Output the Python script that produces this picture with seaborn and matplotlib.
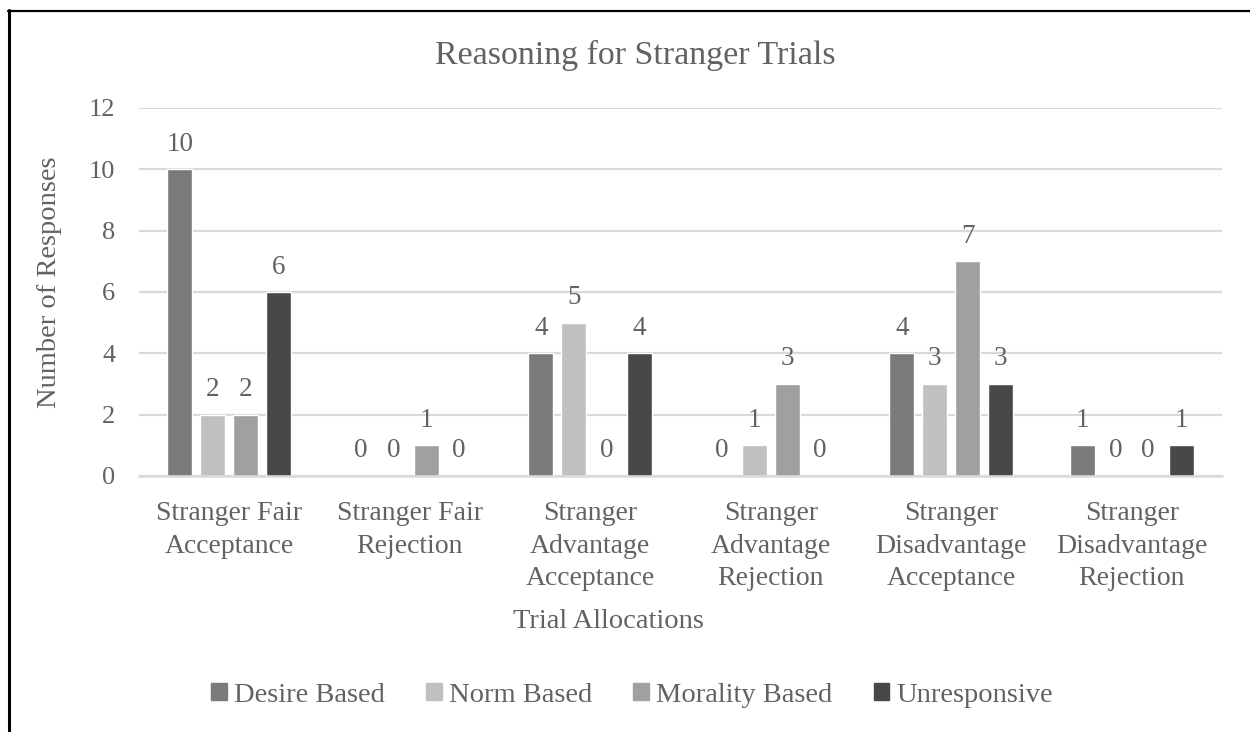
import matplotlib
matplotlib.use("Agg")
import matplotlib.pyplot as plt
from matplotlib.lines import Line2D
import seaborn as sns
import pandas as pd

categories = ["Stranger Fair\nAcceptance", "Stranger Fair\nRejection",
              "Stranger\nAdvantage\nAcceptance", "Stranger\nAdvantage\nRejection",
              "Stranger\nDisadvantage\nAcceptance", "Stranger\nDisadvantage\nRejection"]
series = ["Desire Based", "Norm Based", "Morality Based", "Unresponsive"]
desire = [10, 0, 4, 0, 4, 1]
norm = [2, 0, 5, 1, 3, 0]
morality = [2, 1, 0, 3, 7, 0]
unresponsive = [6, 0, 4, 0, 3, 1]
colors = ["#7b7b7b", "#bfc0c2", "#a0a0a0", "#484848"]
yticks = [0, 2, 4, 6, 8, 10, 12]

rows = []
for s, vals in zip(series, [desire, norm, morality, unresponsive]):
    for c, v in zip(categories, vals):
        rows.append({"cat": c, "series": s, "value": v})
df = pd.DataFrame(rows)

sns.set_theme(style="white")
plt.rcParams["font.family"] = ["Liberation Serif", "DejaVu Serif"]
text_color = "#626262"

fig = plt.figure(figsize=(12.5, 7.32), dpi=100)
ax = fig.add_axes([139/1250, 1-476/732, (1222-139)/1250, (476-108)/732])

sns.barplot(data=df, x="cat", y="value", hue="series", order=categories,
            hue_order=series, palette=colors, width=0.73, gap=0.24,
            ax=ax, legend=False, saturation=1)

for cont in ax.containers:
    ax.bar_label(cont, fmt="%d", padding=9, fontsize=19.5, color=text_color)

ax.set_ylim(0, 12)
ax.set_yticks(yticks)
ax.set_xlim(-0.5, len(categories) - 0.5)
ax.yaxis.grid(True, color="#d9d9d9", linewidth=1.6)
ax.set_axisbelow(True)
for sp in ["top", "right", "left"]:
    ax.spines[sp].set_visible(False)
ax.spines["bottom"].set_color("#d9d9d9")
ax.spines["bottom"].set_linewidth(1.8)
ax.tick_params(axis="y", length=0, labelsize=19, labelcolor=text_color, pad=17)
ax.tick_params(axis="x", length=0, labelsize=20, labelcolor=text_color, pad=18)
for lbl in ax.get_xticklabels():
    lbl.set_linespacing(1.4)

ax.set_xlabel("Trial Allocations", fontsize=20.5, color=text_color)
ax.xaxis.set_label_coords((608-139)/(1222-139), -(622-476)/(476-108), transform=ax.transAxes)
ax.xaxis.label.set_verticalalignment("center")
ax.set_ylabel("Number of Responses", fontsize=20.5, color=text_color)
ax.yaxis.set_label_coords((50-139)/(1222-139), (476-282)/(476-108))
ax.yaxis.label.set_verticalalignment("center")

fig.text(635/1250, 1-55/732, "Reasoning for Stranger Trials", ha="center", va="center",
         fontsize=24.5, color=text_color)

handles = [plt.Rectangle((0, 0), 1, 1, color=c) for c in colors]
fig.legend(handles, series, loc="center", bbox_to_anchor=(632/1250, 1-695/732), ncol=4,
           frameon=False, fontsize=20.5, handlelength=0.55, handleheight=0.55,
           handletextpad=0.25, columnspacing=1.45, labelcolor=text_color)

# outer border (left and top)
fig.add_artist(Line2D([8.5/1250, 8.5/1250], [0, 1-10/732], color="black", linewidth=2.2, transform=fig.transFigure))
fig.add_artist(Line2D([8/1250, 1], [1-10.5/732, 1-10.5/732], color="black", linewidth=1.6, transform=fig.transFigure))

fig.savefig("out.png", dpi=100, facecolor="white")
